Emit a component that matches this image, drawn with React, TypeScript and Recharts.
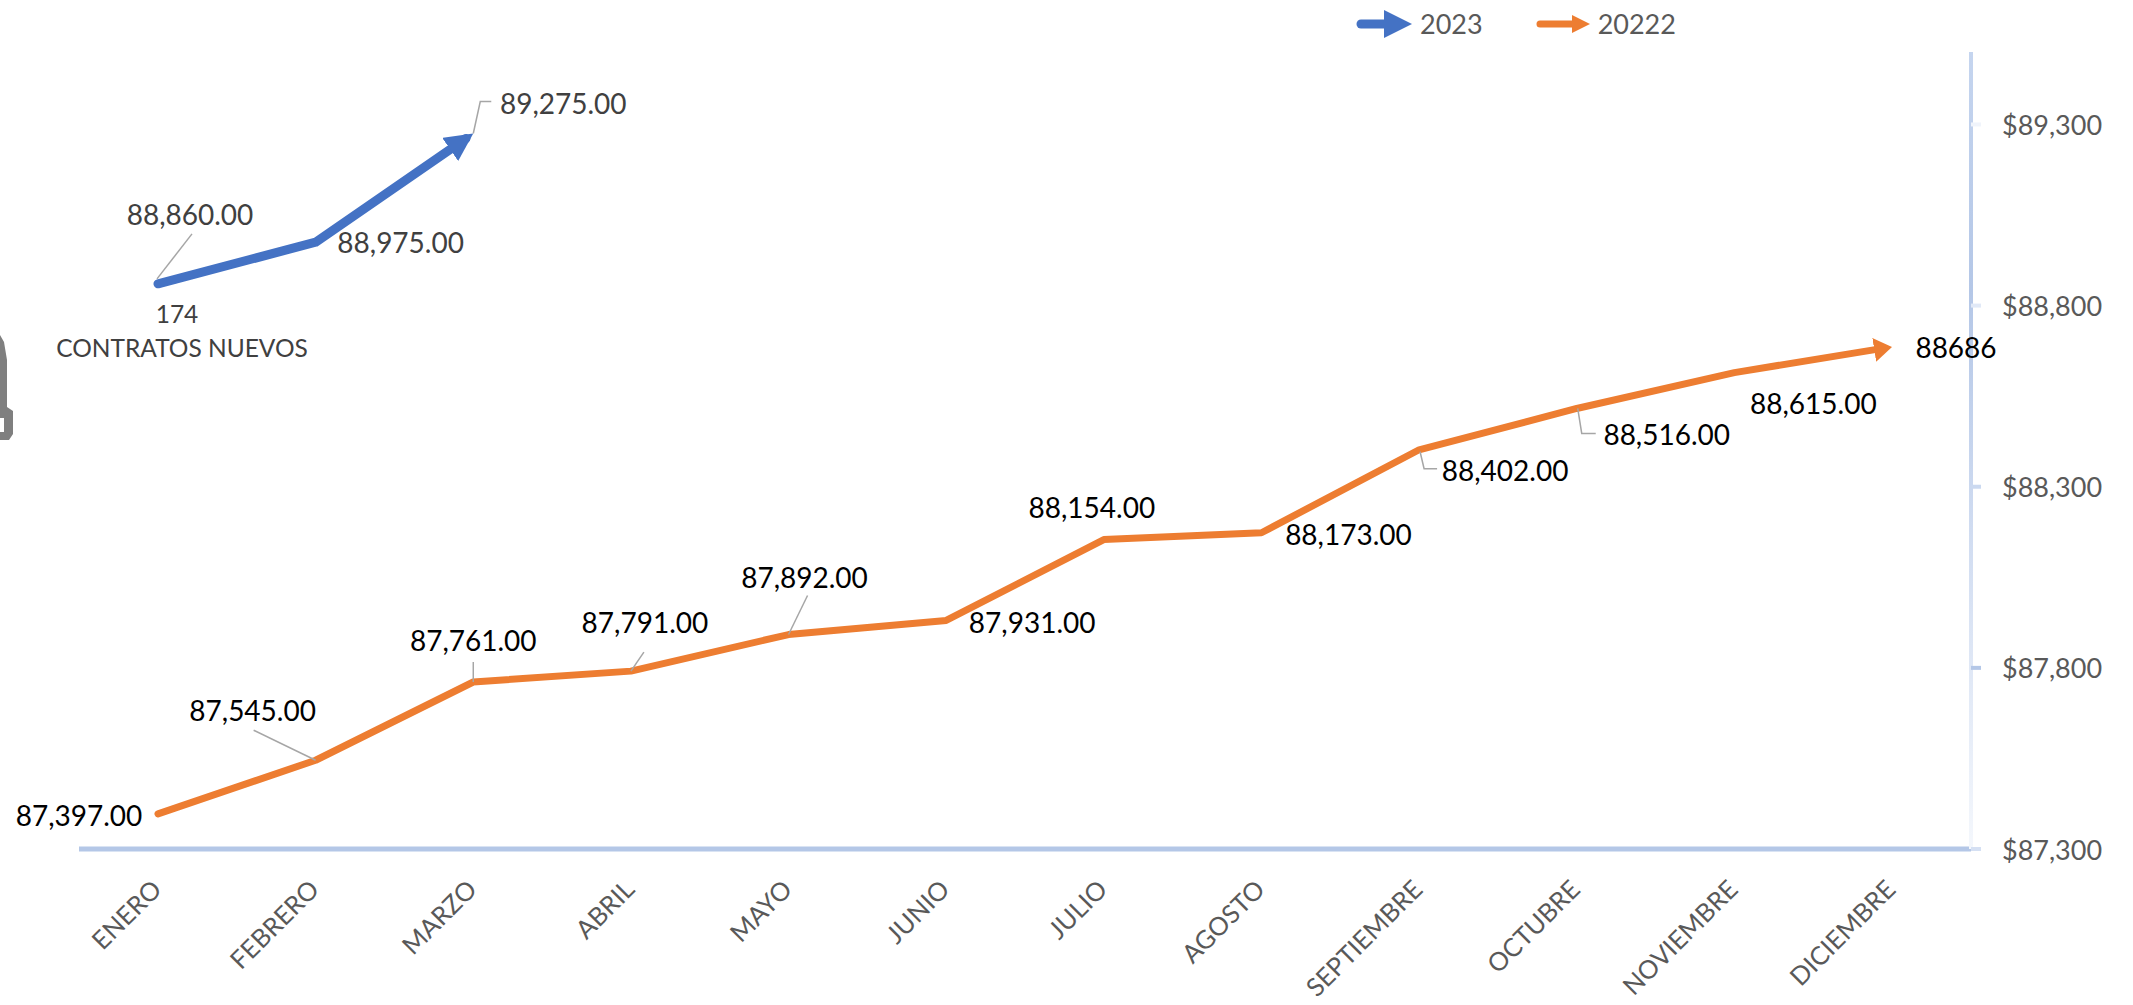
import { LineChart, Line, XAxis, YAxis, Legend } from "recharts";

const months = [
  "ENERO",
  "FEBRERO",
  "MARZO",
  "ABRIL",
  "MAYO",
  "JUNIO",
  "JULIO",
  "AGOSTO",
  "SEPTIEMBRE",
  "OCTUBRE",
  "NOVIEMBRE",
  "DICIEMBRE",
];
const values2023 = [88860, 88975, 89275];
const values2022 = [
  87397, 87545, 87761, 87791, 87892, 87931, 88154, 88173, 88402, 88516, 88615,
  88686,
];
const yTicks = [87300, 87800, 88300, 88800, 89300];
const newContracts = 174;
const newContractsLabel = "CONTRATOS NUEVOS";

const chartData = months.map((month, i) => ({
  month,
  y2023: values2023[i],
  y2022: values2022[i],
}));

const FONT = "Lato";
const BLUE = "#4472C4";
const ORANGE = "#ED7D31";
const AXIS = "#B4C7E7";

// the value axis fades out towards the bottom, its ticks fade the other way
const yTickColors = ["#D5E0F3", "#B4C7E7", "#CBD9F0", "#E1E9F7", "#F0F4FB"];

// label centre relative to its point, then the leader line (also relative)
const labels2022 = [
  { dx: -79, dy: 1 },
  { dx: -63, dy: -50, leader: "M-62,-30L0,0" },
  { dx: 0, dy: -42, leader: "M0,-20L0,0" },
  { dx: 14, dy: -49, leader: "M13,-19L0,0" },
  { dx: 16, dy: -58, leader: "M19,-39L0,0" },
  { dx: 86, dy: 2 },
  { dx: -12, dy: -33 },
  { dx: 87, dy: 1 },
  { dx: 86, dy: 20, leader: "M1,2L5,19L18,19" },
  { dx: 90, dy: 26, leader: "M1,0L5,25L19,25" },
  { dx: 79, dy: 30 },
  { dx: 64, dy: 0 },
];
const labels2023 = [
  { dx: 32, dy: -70, leader: "M34,-50L-1,-5" },
  { dx: 85, dy: 0 },
  { dx: 90, dy: -31, leader: "M0,0L7,-32L18,-32" },
];

const fmt = (v: number) =>
  v.toLocaleString("en-US", { minimumFractionDigits: 2, maximumFractionDigits: 2 });

function pointLabel(
  props: any,
  layout: { dx: number; dy: number; leader?: string }[],
  color: string,
  text: (i: number, v: number) => string,
) {
  const { x, y, index, value } = props;
  const l = layout[index];
  if (!l || value == null) return null;
  return (
    <g key={index}>
      {l.leader && (
        <path
          d={l.leader}
          transform={`translate(${x},${y})`}
          fill="none"
          stroke="#A6A6A6"
          strokeWidth={1.5}
        />
      )}
      <text
        x={x + l.dx}
        y={y + l.dy}
        textAnchor="middle"
        dominantBaseline="central"
        fontFamily={FONT}
        fontSize={28}
        fill={color}
      >
        {text(index, value)}
      </text>
      {color !== "#000000" && index === 0 && (
        <g fontFamily={FONT} fill="#404040" textAnchor="middle" dominantBaseline="central">
          <text x={x + 19} y={y + 30} fontSize={24.5}>
            {newContracts}
          </text>
          <text x={x + 24} y={y + 64} fontSize={24.5}>
            {newContractsLabel}
          </text>
        </g>
      )}
    </g>
  );
}

function MonthTick({ x, y, payload }: any) {
  return (
    <text
      x={x - 2}
      y={y + 27}
      transform={`rotate(-45 ${x - 2} ${y + 27})`}
      textAnchor="end"
      dominantBaseline="central"
      fontFamily={FONT}
      fontSize={25.5}
      fill="#595959"
    >
      {payload.value}
    </text>
  );
}

function ValueTick({ x, y, index, payload }: any) {
  return (
    <g>
      <line x1={x - 31} x2={x - 21} y1={y} y2={y} stroke={yTickColors[index]} strokeWidth={4} />
      <text
        x={x}
        y={y}
        dominantBaseline="central"
        fontFamily={FONT}
        fontSize={27}
        fill="#595959"
      >
        {"$" + payload.value.toLocaleString("en-US")}
      </text>
    </g>
  );
}

function LegendArrow({ color, thick }: { color: string; thick: boolean }) {
  return thick ? (
    <svg width={56} height={30} style={{ display: "block" }}>
      <path d="M5,15L30,15" stroke={color} strokeWidth={9} strokeLinecap="round" />
      <path d="M28,1L56,15L28,29Z" fill={color} />
    </svg>
  ) : (
    <svg width={54} height={30} style={{ display: "block" }}>
      <path d="M4,15L38,15" stroke={color} strokeWidth={7} strokeLinecap="round" />
      <path d="M36,6L54,15L36,24Z" fill={color} />
    </svg>
  );
}

function LegendContent({ payload }: any) {
  return (
    <div style={{ display: "flex", fontFamily: FONT, fontSize: 27, color: "#595959" }}>
      {(payload ?? []).map((p: any, i: number) => (
        <div
          key={p.value}
          style={{ display: "flex", alignItems: "center", gap: 8, marginRight: i === 0 ? 53 : 0 }}
        >
          <LegendArrow color={p.color} thick={i === 0} />
          <span>{p.value}</span>
        </div>
      ))}
    </div>
  );
}

export default function App() {
  return (
    <div style={{ position: "absolute", left: 0, top: 0, width: 2133, height: 1005, background: "#fff" }}>
      <LineChart
        width={2133}
        height={1005}
        data={chartData}
        margin={{ top: 52, right: 0, bottom: 0, left: 79 }}
      >
        <defs>
          <marker id="headBlue" viewBox="0 0 28 28" refX={28} refY={14} markerWidth={28} markerHeight={28} markerUnits="userSpaceOnUse" orient="auto">
            <path d="M0,0L28,14L0,28Z" fill={BLUE} />
          </marker>
          <marker id="headOrange" viewBox="0 0 18 24" refX={18} refY={12} markerWidth={18} markerHeight={24} markerUnits="userSpaceOnUse" orient="auto">
            <path d="M0,0L18,12L0,24Z" fill={ORANGE} />
          </marker>
          <linearGradient id="axisFade" gradientUnits="userSpaceOnUse" x1={0} y1={52} x2={0} y2={849}>
            <stop offset="0" stopColor="#C5D5EF" />
            <stop offset="0.3" stopColor="#B4C7E7" />
            <stop offset="0.6" stopColor="#D0DCF1" />
            <stop offset="1" stopColor="#F4F7FC" />
          </linearGradient>
        </defs>
        {/* cut-off picture at the left edge of the slide */}
        <path
          d="M0,335L4,342L7,360L7,407L13,411L13,434L9,440L0,440L0,432L4,432L4,418L0,418Z"
          fill="#7F7F7F"
        />
        <XAxis
          dataKey="month"
          interval={0}
          height={156}
          padding={{ left: 79, right: 79 }}
          axisLine={{ stroke: AXIS, strokeWidth: 5 }}
          tickLine={false}
          tick={<MonthTick />}
        />
        <YAxis
          orientation="right"
          width={162}
          domain={[87300, 89500]}
          ticks={yTicks}
          allowDataOverflow
          axisLine={{ stroke: "url(#axisFade)", strokeWidth: 4 }}
          tickLine={false}
          tickSize={11}
          tickMargin={20}
          tick={<ValueTick />}
        />
        <Legend
          verticalAlign="middle"
          align="center"
          itemSorter={null}
          wrapperStyle={{ left: 1356, top: 7, width: "auto" }}
          content={<LegendContent />}
        />
        <Line
          dataKey="y2023"
          name="2023"
          stroke={BLUE}
          strokeWidth={9}
          strokeLinecap="round"
          strokeLinejoin="round"
          pathLength={1000}
          strokeDasharray="975 100"
          markerEnd="url(#headBlue)"
          dot={false}
          isAnimationActive={false}
          label={(p: any) => pointLabel(p, labels2023, "#404040", (_, v) => fmt(v))}
        />
        <Line
          dataKey="y2022"
          name="20222"
          stroke={ORANGE}
          strokeWidth={7}
          strokeLinecap="round"
          strokeLinejoin="round"
          pathLength={1000}
          strokeDasharray="994 100"
          markerEnd="url(#headOrange)"
          dot={false}
          isAnimationActive={false}
          label={(p: any) =>
            pointLabel(p, labels2022, "#000000", (i, v) => (i === months.length - 1 ? String(v) : fmt(v)))
          }
        />
      </LineChart>
    </div>
  );
}
